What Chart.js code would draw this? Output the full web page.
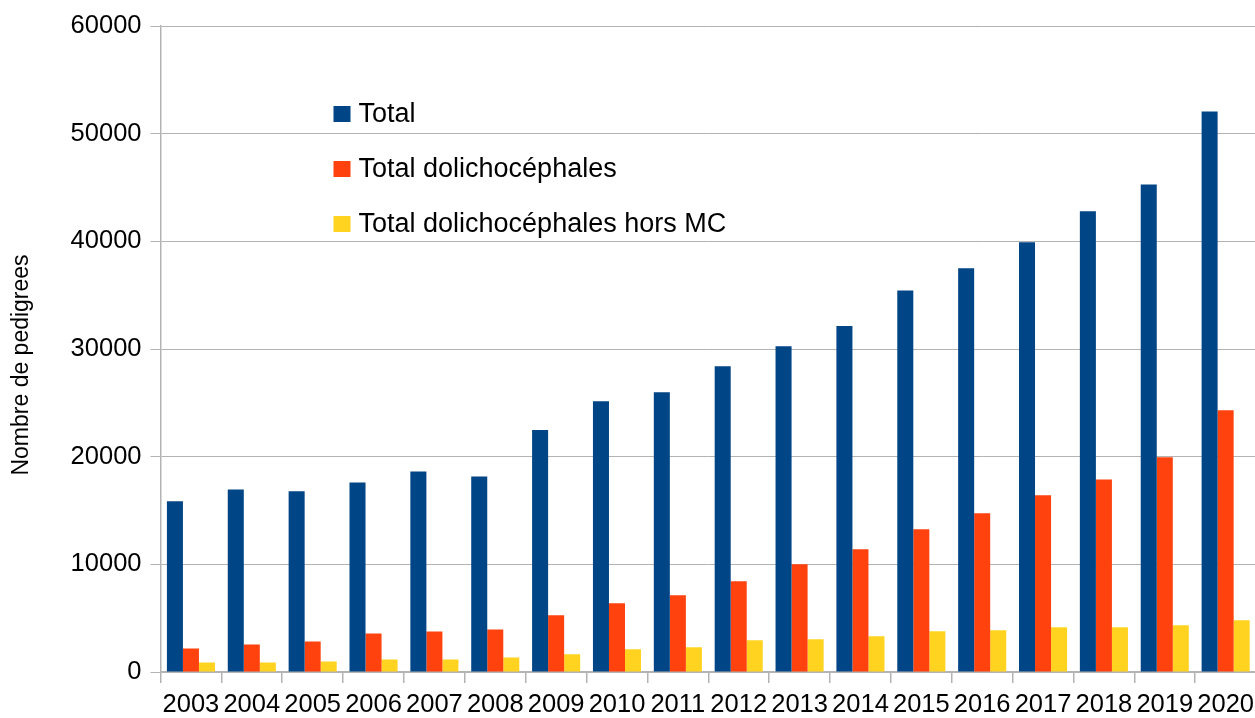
<!DOCTYPE html>
<html>
<head>
<meta charset="utf-8">
<script src="https://cdn.jsdelivr.net/npm/chart.js@4"></script>
<style>
  html, body { margin: 0; padding: 0; background: #fff; overflow: hidden; }
  #wrap { width: 1263px; height: 718px; }
</style>
</head>
<body>
<div id="wrap"><canvas id="chart"></canvas></div>
<script>
const years = ["2003","2004","2005","2006","2007","2008","2009","2010","2011","2012","2013","2014","2015","2016","2017","2018","2019","2020"];
const total = [15850,16950,16780,17600,18630,18160,22480,25150,25990,28400,30260,32130,35430,37490,39910,42790,45280,52070];
const dolicho = [2180,2550,2830,3570,3760,3940,5270,6390,7130,8430,10000,11390,13260,14750,16420,17880,19950,24310];
const dolichoHorsMC = [880,880,970,1160,1160,1340,1650,2110,2300,2950,3040,3320,3780,3880,4160,4160,4340,4800];

const colors = ["#004586", "#ff420e", "#ffd320"];
const FONT = "'Liberation Sans', Arial, sans-serif";

// legend drawn inside the plot area, like the original
const innerLegend = {
  id: "innerLegend",
  afterDraw(chart) {
    const ctx = chart.ctx;
    const x = chart.chartArea.left + 173;
    const rows = [114, 169, 224];
    ctx.save();
    ctx.font = "27px " + FONT;
    ctx.textBaseline = "middle";
    chart.data.datasets.forEach((ds, i) => {
      ctx.fillStyle = ds.backgroundColor;
      ctx.fillRect(x, rows[i] - 8, 17, 16);
      ctx.fillStyle = "#000";
      ctx.fillText(ds.label, x + 25, rows[i] + 1);
    });
    ctx.restore();
  }
};

new Chart(document.getElementById("chart"), {
  type: "bar",
  data: {
    labels: years,
    datasets: [
      { label: "Total", data: total, backgroundColor: colors[0] },
      { label: "Total dolichocéphales", data: dolicho, backgroundColor: colors[1] },
      { label: "Total dolichocéphales hors MC", data: dolichoHorsMC, backgroundColor: colors[2] }
    ]
  },
  options: {
    responsive: true,
    maintainAspectRatio: false,
    animation: false,
    layout: { padding: { top: 26, right: 0, bottom: -8.5, left: 0 } },
    datasets: { bar: { categoryPercentage: 0.79, barPercentage: 1.0 } },
    plugins: {
      legend: { display: false },
      tooltip: { enabled: false }
    },
    scales: {
      x: {
        grid: { drawOnChartArea: false, color: "#b3b3b3", tickLength: 11, lineWidth: 1.5 },
        border: { color: "#b3b3b3", width: 1.5 },
        ticks: { color: "#000", font: { family: FONT, size: 25.5, lineHeight: 1.0 }, padding: 9, maxRotation: 0, autoSkip: false }
      },
      y: {
        min: 0,
        max: 60000,
        grid: { color: "#b3b3b3", tickLength: 10, lineWidth: 1 },
        border: { color: "#b3b3b3", width: 1.5 },
        ticks: {
          stepSize: 10000,
          color: "#000",
          font: { family: FONT, size: 25.5 },
          padding: 9,
          callback: (v) => String(v)
        },
        title: {
          display: true,
          // trailing spaces nudge the rotated title a bit lower, as in the original
          text: "Nombre de pedigrees     ",
          color: "#000",
          font: { family: FONT, size: 23 },
          padding: { top: 8, bottom: 26 }
        }
      }
    }
  },
  plugins: [innerLegend]
});
</script>
</body>
</html>
